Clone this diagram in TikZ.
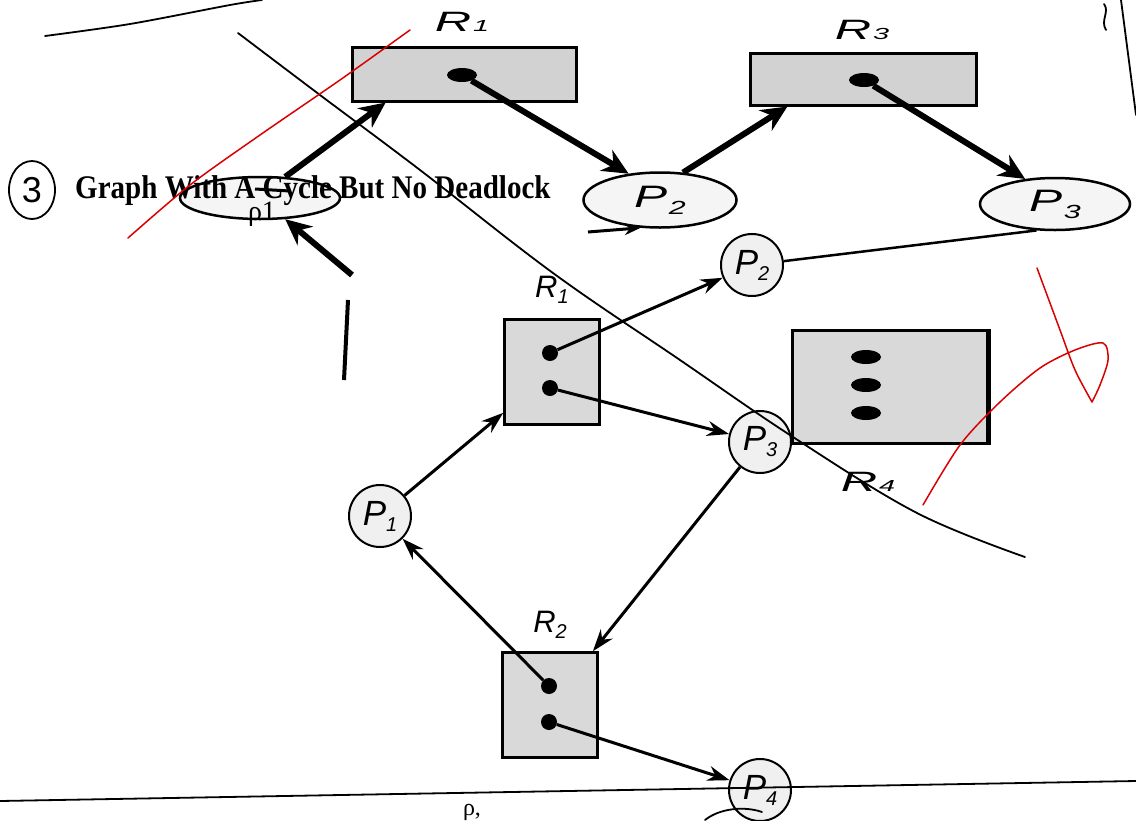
\documentclass[tikz,border=0pt]{standalone}
\usepackage{fontspec}
\setmainfont{Liberation Serif}
\setsansfont{Liberation Sans}
\usetikzlibrary{arrows.meta, positioning, calc, shapes}

\newcommand{\plab}[2]{\textit{#1}\raisebox{-6pt}{\fontsize{20}{20}\selectfont\textit{#2}}}
\newcommand{\rlab}[2]{\scalebox{1.8}[1]{\fontsize{28}{28}\selectfont\textit{#1}\kern1pt{\fontsize{16}{16}\selectfont\textit{#2}}}}
\newcommand{\wplab}[2]{\scalebox{1.6}[1]{\fontsize{31}{31}\selectfont\textit{#1}\kern1pt\raisebox{-7pt}{\fontsize{19}{19}\selectfont\textit{#2}}}}

\begin{document}
\begin{tikzpicture}[x=1pt, y=-1pt,
  proc/.style={circle, draw, line width=2pt, fill=gray!12, minimum size=62pt, inner sep=0pt, font=\sffamily\fontsize{35}{35}\selectfont},
  res/.style={draw, line width=2.5pt, fill=gray!30, minimum width=95pt, minimum height=105pt, inner sep=0pt},
  inst/.style={circle, fill=black, minimum size=16pt, inner sep=0pt},
  edge/.style={line width=3pt, -{Stealth[length=22pt, width=15pt]}},
  bproc/.style={ellipse, draw, line width=2.5pt, fill=gray!8, inner sep=0pt, font=\sffamily},
  bres/.style={draw, line width=3pt, fill=gray!35, inner sep=0pt},
  binst/.style={ellipse, fill=black, minimum width=30pt, minimum height=14pt, inner sep=0pt},
  bedge/.style={line width=6pt, -{Stealth[length=26pt, width=24pt]}},
  ink/.style={line width=1.8pt, line cap=round},
  redink/.style={red!85!black, line width=1.5pt, line cap=round}]
    \useasboundingbox (0,0) rectangle (1136,820);

    % 上方被裁切的图
    \node[bres, minimum width=224pt, minimum height=54pt] (bigR1) at (464,74) {};
    \node[binst] (bigR1dot) at (462,75) {};
    \node[font=\sffamily] (bigR1lab) at (462,22) {\rlab{R}{1}};
    \node[bres, minimum width=226pt, minimum height=52pt] (bigR3) at (863,79) {};
    \node[binst] (bigR3dot) at (864,80) {};
    \node[font=\sffamily] (bigR3lab) at (862,30) {\rlab{R}{3}};
    \node[bproc, minimum width=160pt, minimum height=42pt] (bigP1) at (260,198) {};
    \node[bproc, minimum width=153pt, minimum height=55pt] (bigP2) at (660,200) {\wplab{P}{2}};
    \node[bproc, minimum width=150pt, minimum height=52pt] (bigP3) at (1055,204) {\wplab{P}{3}};

    \draw[bedge] (bigP1.40) -- (bigR1.-160);
    \draw[bedge] (bigR1dot) -- (bigP2.140);
    \draw[bedge] (bigP2.50) -- (bigR3.-160);
    \draw[bedge] (bigR3dot) -- (bigP3.140);
    \coordinate (bigtail) at (352,275);
    \draw[bedge] (bigtail) -- (bigP1.-40);
    \coordinate (stub) at (588,232);
    \draw[line width=3pt, -{Stealth[length=16pt, width=12pt]}] (stub) -- (bigP2.-125);
    \draw[line width=4pt] (348,300) -- (344,380);

    % 标题
    \node[anchor=base west, inner sep=0pt, font=\bfseries\fontsize{33}{33}\selectfont] (title) at (75,198) {\scalebox{0.88}[1]{Graph With A Cycle But No Deadlock}};
    \draw[line width=3pt] (255,189) -- (290,191);
    \node[font=\fontsize{28}{28}\selectfont] (rho) at (262,214) {ρ1};
    \node[draw, ellipse, line width=1.8pt, minimum width=46pt, minimum height=58pt, font=\sffamily\fontsize{36}{36}\selectfont] (mark) at (32,190) {3};

    % 资源 R1, R2, R4
    \node[res] (R1) at (552,372) {};
    \node[inst] (R1a) at (550,353) {};
    \node[inst] (R1b) at (550,388) {};
    \node[font=\sffamily\fontsize{31}{31}\selectfont] (R1lab) at (552,290) {\plab{R}{1}};
    \node[res] (R2) at (550,705) {};
    \node[inst] (R2a) at (549,686) {};
    \node[inst] (R2b) at (549,722) {};
    \node[font=\sffamily\fontsize{31}{31}\selectfont] (R2lab) at (550,625) {\plab{R}{2}};
    \node[res, minimum width=195pt, minimum height=113pt] (R4) at (890,387) {};
    \draw[line width=5pt] (R4.north east) -- (R4.south east);
    \foreach \y [count=\i] in {357,385,413}
        \node[binst] (R4dot\i) at (866,\y) {};
    \node[font=\sffamily] (R4lab) at (868,482) {\rlab{R}{4}};

    % 进程
    \node[proc] (P1) at (380,516) {\plab{P}{1}};
    \node[proc] (P2) at (752,265) {\plab{P}{2}};
    \node[proc] (P3) at (760,442) {\plab{P}{3}};
    \node[proc] (P4) at (760,790) {\plab{P}{4}};
    \draw[line width=2.5pt] (bigP3.-125) -- (P2);

    % 边
    \draw[edge] (R1a) -- (P2);
    \draw[edge] (R1b) -- (P3);
    \draw[edge] (P1) -- (R1);
    \draw[edge] (P3) -- (R2);
    \draw[edge] (R2a) -- (P1);
    \draw[edge] (R2b) -- (P4);

    % 手写痕迹
    \draw[ink] plot[smooth, tension=0.6] coordinates {(238,33) (320,95) (420,170) (553,273) (680,360) (793,437) (917,513) (1025,557)};
    \draw[ink] plot[smooth] coordinates {(45,36) (130,24) (230,5) (262,0)};
    \draw[ink] (1121,0) -- (1136,115);
    \draw[ink] (1104,4) .. controls (1110,12) and (1100,20) .. (1106,30);
    \draw[ink] (0,801) -- (1136,781);
    \draw[ink] (705,820) .. controls (720,808) and (745,806) .. (762,812);
    \node[font=\fontsize{24}{24}\selectfont] (rhob) at (472,812) {ρ,};
    \draw[redink] plot[smooth] coordinates {(128,238) (190,185) (260,135) (340,80) (410,30)};
    \draw[redink] plot[smooth] coordinates {(923,505) (960,445) (1000,402) (1040,368) (1075,350) (1103,343) (1108,360) (1100,385) (1092,402)};
    \draw[redink] plot[smooth] coordinates {(1092,402) (1075,370) (1060,330) (1037,268)};
\end{tikzpicture}
\end{document}
